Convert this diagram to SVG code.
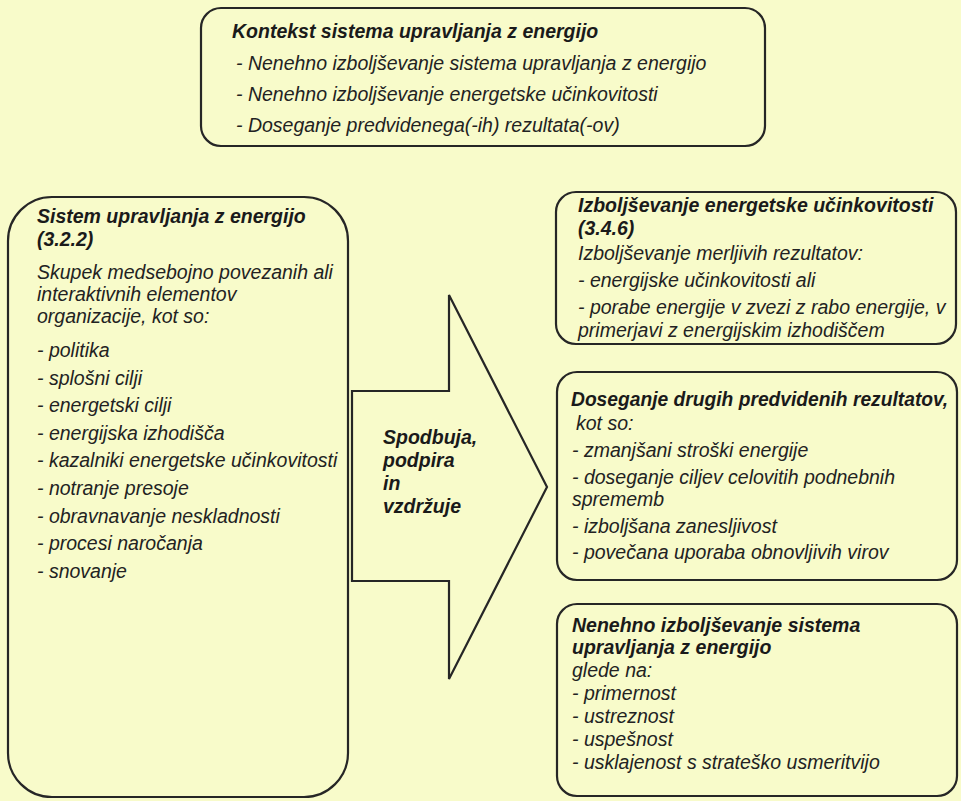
<svg xmlns="http://www.w3.org/2000/svg" width="961" height="801" viewBox="0 0 961 801">
<style>
.bg{fill:#f8fbca}
.box{fill:none;stroke:#262626;stroke-width:2.2}
text{font-family:"Liberation Sans",Arial,sans-serif;font-size:19.5px;font-style:italic;fill:#222}
.b{font-weight:bold;fill:#1a1a1a}
</style>
<rect class="bg" x="0" y="0" width="961" height="801"/>
<g id="context">
<rect class="box" x="201" y="8" width="564" height="138" rx="20"/>
<text class="b" x="232" y="38">Kontekst sistema upravljanja z energijo</text>
<text x="236" y="70">- Nenehno izboljševanje sistema upravljanja z energijo</text>
<text x="236" y="101">- Nenehno izboljševanje energetske učinkovitosti</text>
<text x="236" y="132">- Doseganje predvidenega(-ih) rezultata(-ov)</text>
</g>
<g id="enms">
<rect class="box" x="8" y="197" width="340" height="600" rx="44"/>
<text class="b" x="37" y="223">Sistem upravljanja z energijo</text>
<text class="b" x="37" y="246">(3.2.2)</text>
<text x="37" y="279">Skupek medsebojno povezanih ali</text>
<text x="37" y="301">interaktivnih elementov</text>
<text x="37" y="323">organizacije, kot so:</text>
<text x="37" y="357">- politika</text>
<text x="37" y="384.6">- splošni cilji</text>
<text x="37" y="412.2">- energetski cilji</text>
<text x="37" y="439.8">- energijska izhodišča</text>
<text x="37" y="467.4">- kazalniki energetske učinkovitosti</text>
<text x="37" y="495">- notranje presoje</text>
<text x="37" y="522.6">- obravnavanje neskladnosti</text>
<text x="37" y="550.2">- procesi naročanja</text>
<text x="37" y="577.8">- snovanje</text>
</g>
<g id="connectors">
<path class="box" d="M352 391 H449 V295 L547 487 L449 679 V581 H352 Z"/>
<text class="b" x="383" y="444">Spodbuja,</text>
<text class="b" x="383" y="467">podpira</text>
<text class="b" x="383" y="490">in</text>
<text class="b" x="383" y="513">vzdržuje</text>
</g>
<g id="enpi">
<rect class="box" x="556" y="192" width="400" height="152" rx="20"/>
<text class="b" x="578" y="212">Izboljševanje energetske učinkovitosti</text>
<text class="b" x="578" y="235">(3.4.6)</text>
<text x="578" y="260">Izboljševanje merljivih rezultatov:</text>
<text x="578" y="287">- energijske učinkovitosti ali</text>
<text x="578" y="314">- porabe energije v zvezi z rabo energije, v</text>
<text x="578" y="337">primerjavi z energijskim izhodiščem</text>
</g>
<g id="results">
<rect class="box" x="557" y="372" width="400" height="208" rx="20"/>
<text class="b" x="571" y="406" textLength="377" lengthAdjust="spacingAndGlyphs">Doseganje drugih predvidenih rezultatov,</text>
<text x="576" y="430">kot so:</text>
<text x="572" y="457">- zmanjšani stroški energije</text>
<text x="572" y="484">- doseganje ciljev celovitih podnebnih</text>
<text x="572" y="506">sprememb</text>
<text x="572" y="533">- izboljšana zanesljivost</text>
<text x="572" y="559">- povečana uporaba obnovljivih virov</text>
</g>
<g id="improvement">
<rect class="box" x="557" y="604" width="400" height="192" rx="20"/>
<text class="b" x="572" y="632">Nenehno izboljševanje sistema</text>
<text class="b" x="572" y="654">upravljanja z energijo</text>
<text x="572" y="677">glede na:</text>
<text x="572" y="700">- primernost</text>
<text x="572" y="723">- ustreznost</text>
<text x="572" y="746">- uspešnost</text>
<text x="572" y="769">- usklajenost s strateško usmeritvijo</text>
</g>
</svg>
